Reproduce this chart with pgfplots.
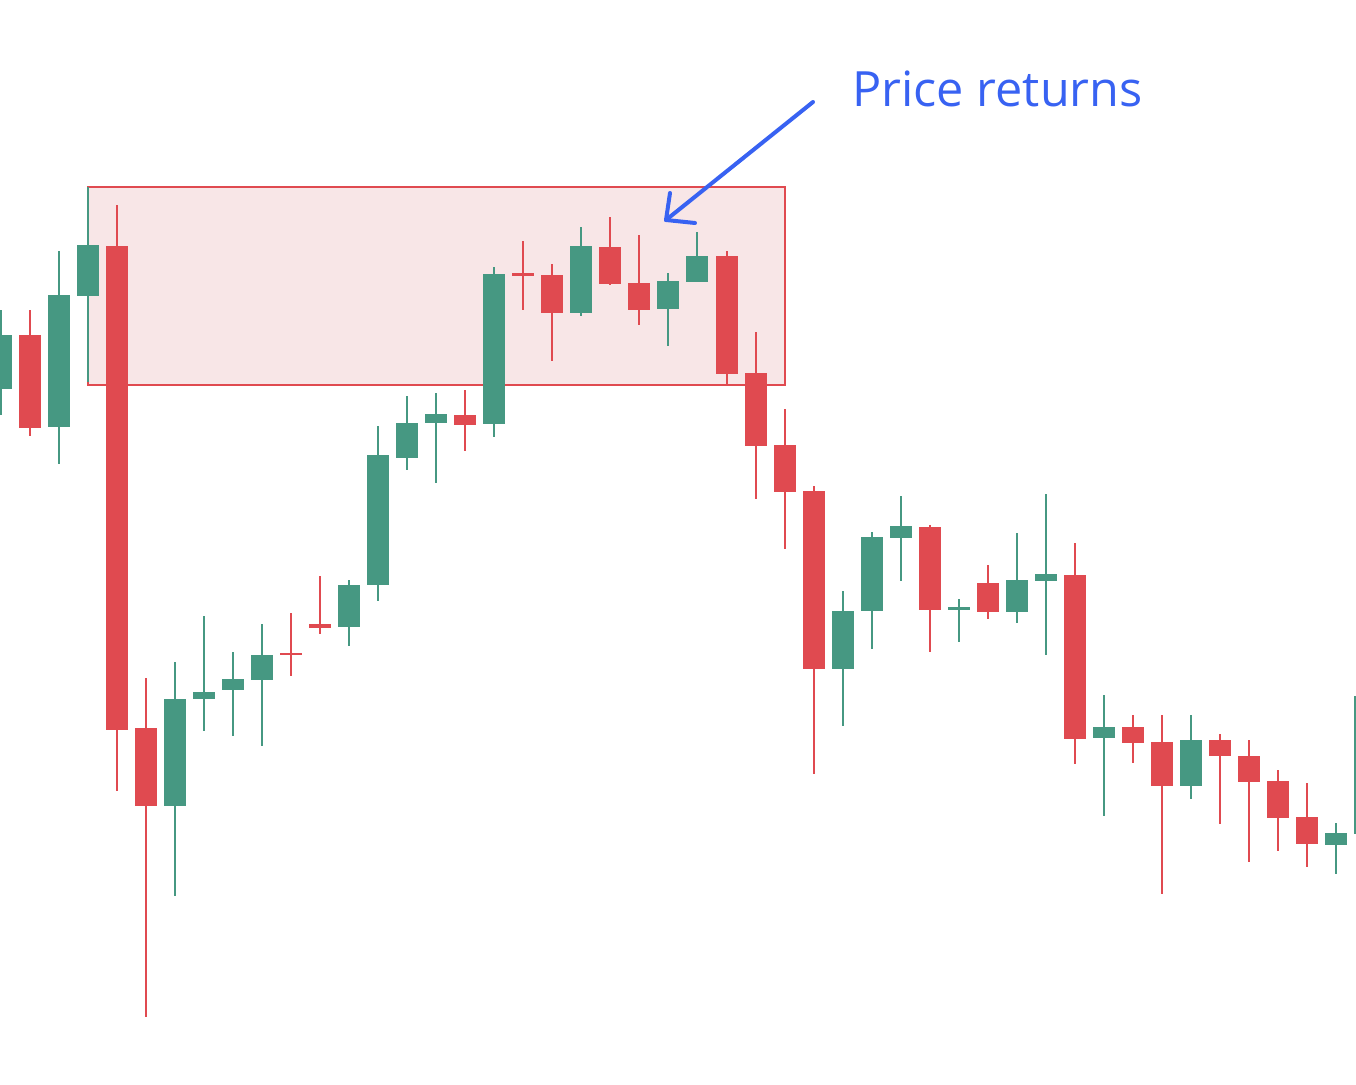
\documentclass[border=0pt]{standalone}
\usepackage{fontspec}
\setmainfont{Open Sans}
\usepackage{pgfplots}
\usepackage{pgfplotstable}
\pgfplotsset{compat=1.18}
\definecolor{cgreen}{RGB}{70,152,130}
\definecolor{cred}{RGB}{224,74,80}
\definecolor{cpink}{RGB}{248,230,231}
\definecolor{cblue}{RGB}{56,98,242}

% up candles: x, open, high, low, close
\pgfplotstableread{
x open high low close
1 695 774 669 749
59.04 657 833 620 789
88.06 788 897 702 839
175.12 278 422 188 385
204.14 385 468 353 392
233.16 394 432 348 405
262.18 404 460 338 429
349.24 457 504 438 499
378.26 499 658 483 629
407.28 626 688 614 661
436.30 661 691 601 670
494.34 660 817 647 810
581.40 771 857 768 838
668.46 775 811 738 803
697.48 802 852 802 828
842.58 415 493 358 473
871.60 473 552 435 547
900.62 546 588 503 558
958.66 474 485 442 477
1016.70 472 551 461 504
1045.72 503 590 429 510
1103.76 346 389 268 357
1190.82 298 369 285 344
1335.92 239 261 210 251
1364.94 250 388 250 388
}\upT

% down candles: x, open, high, low, close
\pgfplotstableread{
x open high low close
30.02 749 774 648 656
117.08 838 879 293 354
146.10 356 406 67 278
291.20 431 471 408 429
320.22 460 508 450 456
465.32 669 694 633 659
523.36 811 843 774 808
552.38 809 820 723 771
610.42 837 867 799 800
639.44 801 849 759 774
726.50 828 833 699 710
755.52 711 752 585 638
784.54 639 675 535 592
813.56 593 598 310 415
929.64 557 559 432 474
987.68 501 519 465 472
1074.74 509 541 320 345
1132.78 357 369 321 341
1161.80 342 369 190 298
1219.84 344 350 260 328
1248.86 328 344 222 302
1277.88 303 314 233 266
1306.90 267 301 217 240
}\downT

\begin{document}
\begin{tikzpicture}
\begin{axis}[
  name=ax,
  scale only axis,
  width=678pt, height=542pt,
  xmin=0, xmax=1356, ymin=0, ymax=1084,
  hide axis,
  clip=true,
]
% zone rectangle
\addplot[fill=cpink, draw=cred, line width=1pt] coordinates {(88,897) (785,897) (785,699) (88,699)} -- cycle;

% wicks
\addplot[draw=none, mark=none, forget plot,
  error bars/.cd, y dir=both, y explicit, error mark=none,
  error bar style={line width=1pt, draw=cgreen, solid}]
  table[x=x, y expr={(\thisrow{high}+\thisrow{low})/2}, y error expr={(\thisrow{high}-\thisrow{low})/2}] {\upT};
\addplot[draw=none, mark=none, forget plot,
  error bars/.cd, y dir=both, y explicit, error mark=none,
  error bar style={line width=1pt, draw=cred, solid}]
  table[x=x, y expr={(\thisrow{high}+\thisrow{low})/2}, y error expr={(\thisrow{high}-\thisrow{low})/2}] {\downT};
% bodies
\addplot[draw=none, mark=none, forget plot,
  error bars/.cd, y dir=both, y explicit, error mark=none,
  error bar style={line width=11pt, draw=cgreen, solid}]
  table[x=x, y expr={(\thisrow{open}+\thisrow{close})/2}, y error expr={abs(\thisrow{open}-\thisrow{close})/2}] {\upT};
\addplot[draw=none, mark=none, forget plot,
  error bars/.cd, y dir=both, y explicit, error mark=none,
  error bar style={line width=11pt, draw=cred, solid}]
  table[x=x, y expr={(\thisrow{open}+\thisrow{close})/2}, y error expr={abs(\thisrow{open}-\thisrow{close})/2}] {\downT};

% annotation
\draw[cblue, line width=2pt, line cap=round] (axis cs:813,982) -- (axis cs:666,864);
\draw[cblue, line width=2pt, line cap=round, line join=round] (axis cs:670,891) -- (axis cs:666,864) -- (axis cs:695,861);
\node[anchor=base west, inner sep=0pt, text=cblue, font=\fontsize{24.3pt}{29pt}\selectfont] at (axis cs:852,977) {Price returns};
\end{axis}
\pgfresetboundingbox
\path (ax.south west) rectangle (ax.north east);
\end{tikzpicture}
\end{document}
